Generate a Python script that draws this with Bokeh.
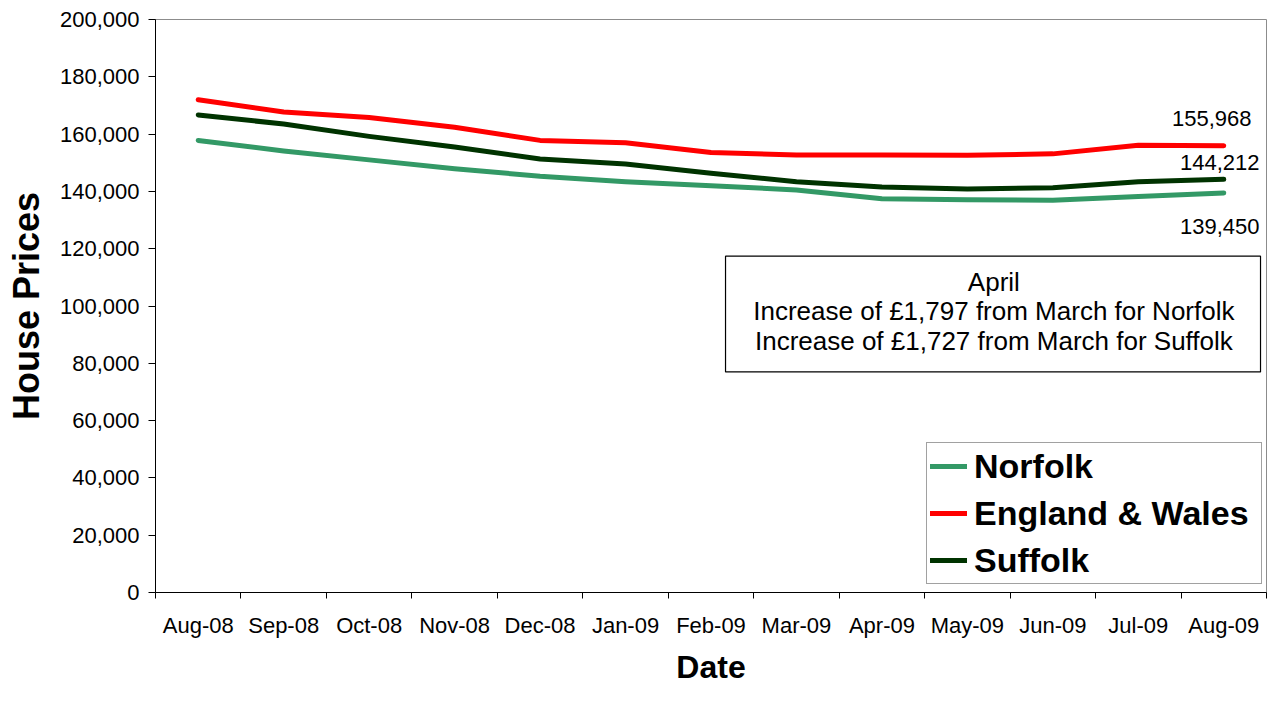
from bokeh.plotting import figure
from bokeh.models import (Range1d, FixedTicker, NumeralTickFormatter, Legend, LegendItem,
                          Label, BoxAnnotation, ColumnDataSource)
from bokeh.embed import file_html
from bokeh.resources import INLINE
from bokeh.core.properties import value

months = ["Aug-08", "Sep-08", "Oct-08", "Nov-08", "Dec-08", "Jan-09", "Feb-09",
          "Mar-09", "Apr-09", "May-09", "Jun-09", "Jul-09", "Aug-09"]
norfolk = [157800, 154100, 151000, 147900, 145300, 143400, 142000,
           140500, 137400, 137100, 136900, 138200, 139450]
england_wales = [172000, 167700, 165800, 162400, 157800, 157000, 153600,
                 152700, 152700, 152600, 153100, 156100, 155968]
suffolk = [166700, 163500, 159200, 155500, 151300, 149600, 146300,
           143400, 141500, 140800, 141300, 143400, 144212]
y_ticks = list(range(0, 200001, 20000))
annotation_lines = ["April",
                    "Increase of \u00a31,797 from March for Norfolk",
                    "Increase of \u00a31,727 from March for Suffolk"]

FONT = "Liberation Sans"
xs = list(range(len(months)))

p = figure(width=1267, height=687, output_backend="svg", toolbar_location=None,
           x_range=Range1d(-0.5, len(months) - 0.5), y_range=Range1d(0, 200000))
p.min_border_left = 155
p.min_border_right = 1
p.min_border_top = 19
p.min_border_bottom = 90
p.background_fill_color = "white"
p.border_fill_color = "white"
p.outline_line_color = "#8c8c8c"
p.outline_line_width = 1
p.xgrid.visible = False
p.ygrid.visible = False

# x axis: labels at centers, tick marks between categories
xa = p.xaxis[0]
xa.ticker = FixedTicker(ticks=xs, minor_ticks=[i - 0.5 for i in range(len(months) + 1)])
xa.major_label_overrides = {i: m for i, m in enumerate(months)}
xa.major_tick_line_color = None
xa.major_tick_out = 0
xa.major_tick_in = 0
xa.minor_tick_line_color = "black"
xa.minor_tick_out = 6
xa.minor_tick_in = 0
xa.axis_line_color = "black"
xa.major_label_text_font = FONT
xa.major_label_text_font_size = "22px"
xa.major_label_text_color = "black"
xa.major_label_standoff = 14
xa.axis_label = "Date"
xa.axis_label_text_font = FONT
xa.axis_label_text_font_style = "bold"
xa.axis_label_text_font_size = "32px"
xa.axis_label_text_color = "black"
xa.axis_label_standoff = 8

ya = p.yaxis[0]
ya.ticker = FixedTicker(ticks=y_ticks)
ya.formatter = NumeralTickFormatter(format="0,0")
ya.major_tick_line_color = "black"
ya.major_tick_out = 7
ya.major_tick_in = 0
ya.minor_tick_line_color = None
ya.axis_line_color = "black"
ya.major_label_text_font = FONT
ya.major_label_text_font_size = "22px"
ya.major_label_text_color = "black"
ya.major_label_standoff = 9
ya.axis_label = "House Prices"
ya.axis_label_text_font = FONT
ya.axis_label_text_font_style = "bold"
ya.axis_label_text_font_size = "36px"
ya.axis_label_text_color = "black"
ya.axis_label_standoff = 10

series = [("Norfolk", norfolk, "#339966"),
          ("England & Wales", england_wales, "#ff0000"),
          ("Suffolk", suffolk, "#003300")]
renderers = []
for name, vals, col in series:
    r = p.line(xs, vals, line_color=col, line_width=5, line_join="round", line_cap="round")
    renderers.append((name, r))

# end value labels
last = len(months) - 1
end_src = ColumnDataSource(dict(
    x=[last, last, last],
    y=[england_wales[-1], suffolk[-1], norfolk[-1]],
    t=[f"{england_wales[-1]:,}", f"{suffolk[-1]:,}", f"{norfolk[-1]:,}"],
    xo=[-12, -4, -4],
    yo=[-27, -17, 34],
))
p.text(x="x", y="y", text="t", x_offset="xo", y_offset="yo", source=end_src,
       text_font=value(FONT), text_font_size="22px", text_color="black",
       text_align="center", text_baseline="middle")

# annotation box
p.add_layout(BoxAnnotation(left=6.17, right=12.43, bottom=77000, top=117400,
                           fill_color="white", fill_alpha=1.0,
                           line_color="black", line_alpha=1.0, line_width=1.2,
                           level="overlay"))
for txt, yv in zip(annotation_lines, [108400, 98300, 87800]):
    p.add_layout(Label(x=9.31, y=yv, text=txt, text_font=FONT, text_font_size="26px",
                       text_color="black", text_align="center", text_baseline="middle",
                       level="overlay"))

legend = Legend(items=[LegendItem(label=n, renderers=[r]) for n, r in renderers],
                location=(771, 8))
legend.label_text_font = FONT
legend.label_text_font_style = "bold"
legend.label_text_font_size = "34px"
legend.label_text_color = "black"
legend.glyph_width = 37
legend.glyph_height = 40
legend.label_height = 40
legend.label_width = 284
legend.label_standoff = 7
legend.spacing = 7
legend.padding = 3
legend.margin = 0
legend.border_line_color = "#444444"
legend.border_line_width = 1
legend.background_fill_color = "white"
legend.background_fill_alpha = 1.0
p.add_layout(legend, "center")

open("out.html", "w").write(file_html(p, INLINE))
